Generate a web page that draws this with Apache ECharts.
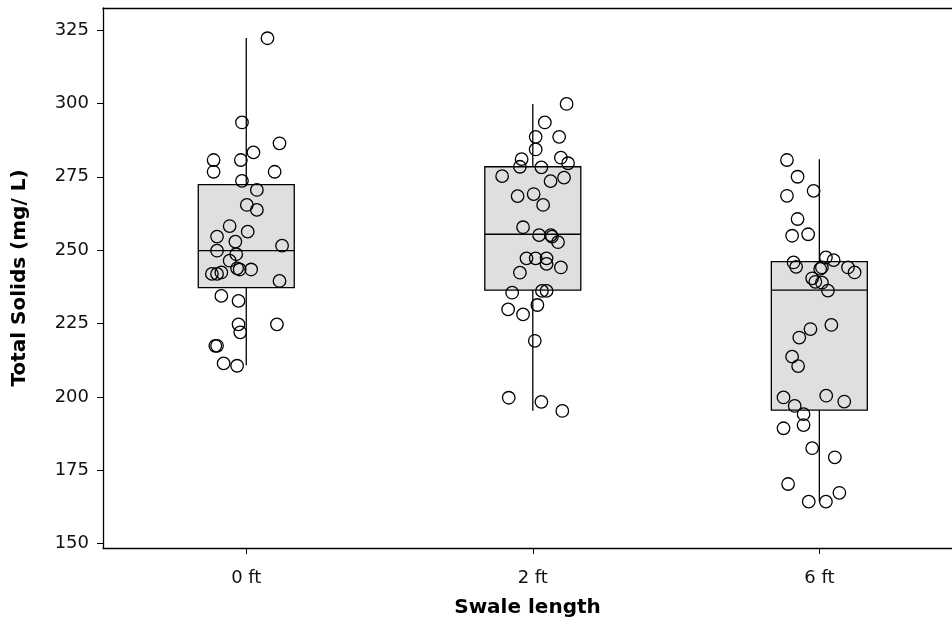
<!DOCTYPE html>
<html>
<head>
<meta charset="utf-8">
<script src="https://cdn.jsdelivr.net/npm/echarts@6/dist/echarts.min.js"></script>
<style>
html,body{margin:0;padding:0;background:#fff;}
#chart{width:952px;height:624px;}
</style>
</head>
<body>
<div id="chart"></div>
<script>
// Categories (x positions 1,2,3)
var categories = ['0 ft', '2 ft', '6 ft'];
var yTicks = [150, 175, 200, 225, 250, 275, 300, 325];

// Box stats: [min, Q1, median, Q3, max]
var box0 = [210.8, 237.2, 249.8, 272.3, 322.3];
var box2 = [195.3, 236.4, 255.4, 278.4, 299.8];
var box6 = [164.3, 195.5, 236.4, 246.1, 281.0];

// Jittered points: x (category position + jitter) and y values
var x0 = [1.074,0.985,1.116,1.025,0.886,0.981,0.886,1.099,0.985,1.037,1.002,1.037,0.942,1.005,0.898,0.962,1.125,0.898,0.965,0.942,0.968,0.977,1.017,0.880,0.898,0.913,1.116,0.913,0.973,1.107,0.973,0.979,0.892,0.898,0.921,0.968];
var y0 = [322.2,293.5,286.4,283.3,280.7,280.7,276.7,276.7,273.6,270.5,265.4,263.7,258.2,256.3,254.6,252.9,251.5,249.8,248.6,246.4,243.8,243.4,243.4,241.9,241.9,242.4,239.5,234.4,232.7,224.7,224.7,222.0,217.4,217.4,211.4,210.6];

var x2 = [2.118,2.042,2.010,2.092,2.010,1.961,2.098,2.123,1.955,2.030,1.893,2.109,2.062,1.947,2.003,2.036,1.966,2.022,2.063,2.067,2.088,1.978,2.010,2.048,2.048,2.098,1.955,1.928,2.032,2.048,1.914,1.966,2.016,2.007,1.916,2.030,2.103];
var y2 = [299.8,293.5,288.6,288.6,284.3,281.0,281.5,279.6,278.4,278.2,275.2,274.7,273.5,268.4,269.1,265.4,257.8,255.1,255.1,254.6,252.7,247.2,247.2,247.2,245.3,244.1,242.3,235.5,236.1,236.1,229.8,228.1,231.3,219.1,199.7,198.3,195.2];

var x6 = [2.887,2.924,2.980,2.887,2.924,2.961,2.905,3.023,3.050,2.910,2.919,3.009,3.003,3.100,3.123,2.975,2.986,3.009,3.030,3.042,2.969,2.930,2.905,2.926,2.875,3.024,3.087,2.914,2.945,2.945,2.875,2.975,3.054,2.891,2.963,3.023,3.070];
var y6 = [280.7,275.0,270.2,268.5,260.6,255.4,254.9,247.5,246.6,245.8,244.3,244.1,243.6,244.1,242.4,240.4,239.2,238.9,236.2,224.5,223.1,220.2,213.7,210.5,199.8,200.4,198.4,196.9,194.1,190.4,189.3,182.5,179.4,170.3,164.3,164.3,167.3];

var boxes = [box0, box2, box6];
var boxData = boxes.map(function (b, i) { return [i + 1].concat(b); });

function pairs(xs, ys) { return xs.map(function (x, i) { return [x, ys[i]]; }); }
var points = pairs(x0, y0).concat(pairs(x2, y2)).concat(pairs(x6, y6));

var FONT = 'DejaVu Sans';
var X_MIN = 0.5, X_MAX = 3.463;
var chart = echarts.init(document.getElementById('chart'), null, {renderer: 'canvas'});
chart.setOption({
  animation: false,
  grid: {left: 103, top: 8, right: 0, height: 540},
  xAxis: [{
    type: 'value', min: X_MIN, max: X_MAX,
    name: 'Swale length', nameLocation: 'middle', nameGap: 50,
    nameTextStyle: {fontFamily: FONT, fontWeight: 'bold', fontSize: 20, color: '#000'},
    axisLine: {show: true, onZero: false, lineStyle: {color: '#000', width: 1.3}},
    axisTick: {show: true, length: 6, lineStyle: {color: '#000'}, customValues: [1, 2, 3]},
    axisLabel: {customValues: [1, 2, 3], margin: 21, fontFamily: FONT, fontSize: 18, color: '#111',
      formatter: function (v) { return categories[Math.round(v) - 1]; }},
    splitLine: {show: false}
  }, {
    type: 'value', position: 'top', min: X_MIN, max: X_MAX,
    axisLine: {show: true, onZero: false, lineStyle: {color: '#000', width: 1.3}},
    axisTick: {show: false}, axisLabel: {show: false}, splitLine: {show: false}
  }],
  yAxis: {
    type: 'value', min: 148.5, max: 332.5,
    name: 'Total Solids (mg/ L)', nameLocation: 'middle', nameGap: 73,
    nameTextStyle: {fontFamily: FONT, fontWeight: 'bold', fontSize: 20, color: '#000'},
    axisLine: {show: true, onZero: false, lineStyle: {color: '#000', width: 1.3}},
    axisTick: {show: true, length: 6, lineStyle: {color: '#000'}, customValues: yTicks},
    axisLabel: {customValues: yTicks, margin: 14, fontFamily: FONT, fontSize: 18, color: '#111'},
    splitLine: {show: false}
  },
  series: [
    {
      type: 'custom',
      data: boxData,
      encode: {x: 0, y: [1, 2, 3, 4, 5]},
      renderItem: function (params, api) {
        var x = api.value(0);
        var pMin = api.coord([x, api.value(1)]);
        var pQ1 = api.coord([x, api.value(2)]);
        var pMed = api.coord([x, api.value(3)]);
        var pQ3 = api.coord([x, api.value(4)]);
        var pMax = api.coord([x, api.value(5)]);
        var w = api.size([0.335, 0])[0];
        var stroke = {stroke: '#000', lineWidth: 1.3, fill: null};
        return {
          type: 'group',
          children: [
            {type: 'line', shape: {x1: pMin[0], y1: pMin[1], x2: pMax[0], y2: pMax[1]}, style: stroke},
            {type: 'rect', shape: {x: pQ3[0] - w / 2, y: pQ3[1], width: w, height: pQ1[1] - pQ3[1]},
              style: {fill: '#dfdfdf', stroke: '#000', lineWidth: 1.3}},
            {type: 'line', shape: {x1: pMed[0] - w / 2, y1: pMed[1], x2: pMed[0] + w / 2, y2: pMed[1]}, style: stroke}
          ]
        };
      },
      z: 1
    },
    {
      type: 'scatter',
      data: points,
      symbol: 'circle',
      symbolSize: 12.5,
      itemStyle: {color: 'rgba(0,0,0,0)', borderColor: '#000', borderWidth: 1.3, opacity: 1},
      emphasis: {disabled: true},
      z: 2
    }
  ]
});
</script>
</body>
</html>
